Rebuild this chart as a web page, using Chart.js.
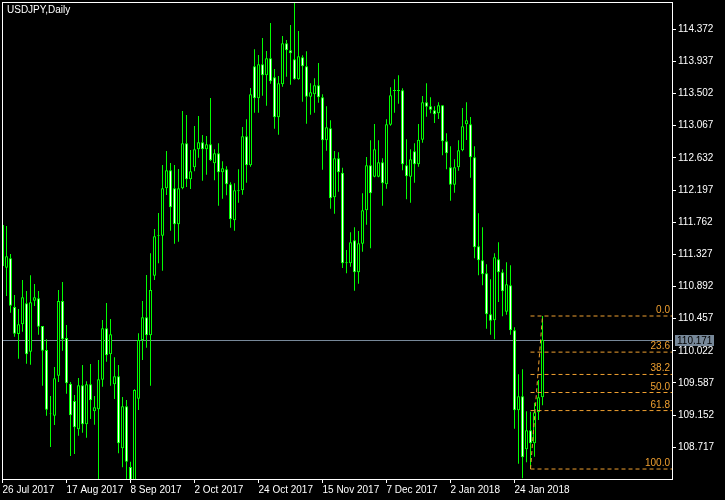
<!DOCTYPE html>
<html>
<head>
<meta charset="utf-8">
<title>USDJPY,Daily</title>
<script src="https://cdn.jsdelivr.net/npm/chart.js@4.4.1/dist/chart.umd.min.js"></script>
<style>
    html, body { margin: 0; padding: 0; background: #000; }
    #wrap { width: 725px; height: 500px; }
</style>
</head>
<body>
<div id="wrap"><canvas id="chart" width="725" height="500"></canvas></div>
<script>
// daily bars, 26 Jul 2017 .. 2 Feb 2018
const opens = [
    111.724, 111.147, 111.274, 110.615, 110.250, 110.381, 110.665, 110.010, 110.700, 110.733,
    110.358, 110.033, 109.174, 109.144, 109.686, 110.696, 110.196, 109.577, 109.343, 108.960,
    109.556, 109.028, 109.569, 109.204, 109.231, 109.631, 110.327, 109.975, 109.569, 109.677,
    108.703, 109.272, 108.450, 107.880, 109.374, 110.168, 110.476, 110.232, 111.038, 111.575,
    111.579, 112.221, 112.464, 112.221, 111.734, 112.221, 112.829, 112.342, 112.505, 112.748,
    112.843, 112.748, 112.816, 112.559, 112.694, 112.437, 112.478, 112.275, 111.788, 112.180,
    112.194, 112.924, 112.532, 113.871, 113.438, 113.898, 113.749, 113.979, 113.722, 113.181,
    113.628, 114.182, 114.088, 113.966, 113.695, 113.993, 113.871, 113.460, 113.492, 113.614,
    113.452, 112.870, 113.032, 112.099, 112.627, 112.432, 111.206, 111.206, 111.517, 111.084,
    111.471, 111.923, 112.532, 112.378, 112.378, 112.572, 112.275, 113.081, 113.537, 113.550,
    113.546, 112.532, 112.378, 112.721, 112.545, 112.878, 113.384, 113.330, 113.276, 113.235,
    113.344, 112.856, 112.505, 112.269, 112.505, 112.735, 113.086, 113.086, 112.640, 111.436,
    111.247, 111.071, 110.516, 110.435, 111.260, 111.084, 110.551, 110.908, 110.300, 109.217,
    109.407, 108.690, 108.947, 108.771, 109.190, 109.393
];
const highs = [
    111.873, 111.711, 111.332, 110.777, 110.588, 110.980, 110.831, 111.044, 110.926, 110.831,
    110.358, 110.178, 109.411, 109.803, 110.845, 110.953, 110.371, 109.600, 109.424, 109.654,
    109.830, 109.610, 109.844, 109.411, 109.898, 110.439, 110.669, 110.453, 109.934, 109.830,
    109.397, 109.357, 108.522, 109.502, 110.259, 110.696, 111.048, 111.341, 111.670, 111.887,
    112.536, 112.725, 112.563, 112.536, 112.482, 113.266, 113.212, 112.739, 113.063, 113.199,
    112.942, 112.928, 113.442, 112.748, 112.829, 112.586, 112.518, 112.302, 112.288, 112.478,
    113.050, 113.154, 113.578, 114.101, 114.024, 114.254, 114.078, 114.457, 113.835, 113.740,
    114.281, 114.227, 114.430, 114.727, 114.349, 114.020, 114.074, 113.641, 113.709, 113.916,
    113.492, 113.330, 113.141, 112.725, 112.708, 112.499, 111.386, 111.625, 111.693, 111.643,
    112.153, 112.644, 112.870, 113.091, 112.870, 112.627, 113.154, 113.587, 113.695, 113.749,
    113.573, 112.884, 112.748, 112.829, 113.091, 113.469, 113.641, 113.452, 113.330, 113.384,
    113.344, 112.965, 112.789, 112.613, 112.870, 113.307, 113.384, 113.185, 112.789, 111.882,
    111.693, 111.193, 110.990, 111.341, 111.490, 111.125, 111.220, 111.179, 110.340, 109.704,
    109.772, 109.204, 109.198, 109.320, 109.627, 110.493
];
const lows = [
    111.142, 110.764, 110.538, 110.213, 109.915, 110.281, 109.848, 109.834, 110.628, 110.240,
    109.550, 109.144, 108.721, 109.019, 109.600, 110.024, 109.442, 108.599, 108.626, 108.874,
    108.914, 108.847, 109.100, 109.023, 108.260, 109.537, 109.875, 109.550, 109.370, 108.636,
    108.446, 108.284, 107.320, 107.800, 109.222, 109.898, 110.064, 109.550, 110.980, 111.206,
    111.106, 112.130, 111.647, 111.471, 111.498, 112.207, 112.238, 112.211, 112.451, 112.635,
    112.323, 112.405, 112.590, 112.329, 111.985, 112.080, 112.126, 111.688, 111.647, 112.026,
    112.134, 112.296, 112.513, 113.243, 113.243, 113.473, 113.338, 113.636, 113.027, 112.946,
    113.595, 113.730, 113.622, 113.690, 113.690, 113.392, 113.095, 113.216, 113.243, 113.379,
    112.472, 112.729, 111.945, 111.877, 112.175, 111.142, 111.071, 111.160, 110.835, 110.930,
    111.363, 111.728, 111.409, 112.369, 112.370, 111.985, 112.215, 113.068, 113.243, 113.365,
    112.464, 112.072, 112.026, 112.296, 112.513, 112.838, 113.189, 113.235, 113.104, 113.158,
    112.667, 112.478, 112.053, 112.161, 112.459, 112.721, 112.874, 112.364, 111.274, 111.044,
    110.908, 110.321, 110.240, 110.178, 110.683, 110.489, 110.511, 110.240, 108.969, 108.495,
    108.298, 108.514, 108.423, 108.590, 109.086, 109.285
];
const closes = [
    111.170, 111.301, 110.632, 110.254, 110.381, 110.746, 109.975, 110.678, 110.746, 110.348,
    110.024, 109.226, 109.181, 109.650, 110.696, 110.178, 109.583, 109.150, 108.988, 109.556,
    109.028, 109.569, 109.353, 109.258, 109.637, 110.327, 109.961, 110.246, 109.677, 108.771,
    109.272, 108.522, 107.840, 109.492, 110.168, 110.476, 110.232, 110.845, 111.571, 111.585,
    112.221, 112.464, 111.964, 111.734, 112.221, 112.829, 112.342, 112.451, 112.748, 112.843,
    112.748, 112.816, 112.599, 112.694, 112.437, 112.491, 112.275, 111.801, 112.194, 112.194,
    112.924, 112.532, 113.492, 113.438, 113.898, 113.749, 113.979, 113.668, 113.181, 113.641,
    114.182, 114.088, 114.047, 113.695, 114.006, 113.871, 113.460, 113.519, 113.614, 113.452,
    112.870, 113.046, 112.085, 112.627, 112.437, 111.206, 111.220, 111.490, 111.084, 111.477,
    111.923, 112.532, 112.153, 112.748, 112.572, 112.288, 113.086, 113.479, 113.550, 113.537,
    112.545, 112.383, 112.613, 112.545, 112.878, 113.384, 113.325, 113.284, 113.222, 113.344,
    112.856, 112.694, 112.269, 112.505, 112.735, 113.059, 113.141, 112.640, 111.422, 111.247,
    111.057, 110.516, 110.430, 111.287, 111.084, 110.827, 110.922, 110.300, 109.217, 109.407,
    108.582, 108.947, 108.771, 109.190, 109.393, 110.171
];

// x axis: bar index of each date label
const dateTicks = [0, 16, 32, 48, 64, 80, 96, 112, 128];
const dateLabels = ['26 Jul 2017', '17 Aug 2017', '8 Sep 2017', '2 Oct 2017', '24 Oct 2017',
    '15 Nov 2017', '7 Dec 2017', '2 Jan 2018', '24 Jan 2018'];

// y axis
const priceTicks = [108.717, 109.152, 109.587, 110.022, 110.457, 110.892, 111.327,
    111.762, 112.197, 112.632, 113.067, 113.502, 113.937, 114.372];
const priceMin = 108.288;
const priceMax = 114.741;

// fibonacci retracement, drawn from the low of bar 132 to the high of bar 135
const fibFrom = 132;
const fibTo = 135;
const fibRatios = [0, 23.6, 38.2, 50, 61.8, 100];

const green = '#00ff00';
const orange = '#f0a030';
const gray = '#778899';
const font = 'Liberation Sans';

const xMin = -0.125;
const xMax = 167.375;

const bars = opens.map((o, i) => i);
const wickData = bars.map(i => ({x: i, y: [lows[i], highs[i]]}));
const bodyData = bars.map(i => ({x: i, y: [opens[i], closes[i]]}));
const bodyColors = bars.map(i => closes[i] < opens[i] ? '#ffffff' : '#000000');

const fibHigh = highs[fibTo];
const fibLow = lows[fibFrom];
const fibLevels = fibRatios.map(r => fibHigh - (fibHigh - fibLow) * r / 100);
const lastClose = closes[closes.length - 1];

const fibDatasets = fibLevels.map(level => ({
    type: 'line',
    data: [{x: fibFrom, y: level}, {x: xMax, y: level}],
    borderColor: orange,
    borderWidth: 1,
    borderDash: [4, 3],
    pointRadius: 0,
    order: 1
}));
fibDatasets.push({
    type: 'line',
    data: [{x: fibFrom, y: fibLow}, {x: fibTo, y: fibHigh}],
    borderColor: orange,
    borderWidth: 1,
    borderDash: [4, 3],
    pointRadius: 0,
    order: 1
});

const mtPlugin = {
    id: 'mtDecor',
    beforeDatasetsDraw(chart) {
        const {ctx, chartArea, scales} = chart;
        const y = Math.round(scales.y.getPixelForValue(lastClose)) + 0.5;
        ctx.save();
        ctx.strokeStyle = gray;
        ctx.lineWidth = 1;
        ctx.beginPath();
        ctx.moveTo(chartArea.left, y);
        ctx.lineTo(chartArea.right, y);
        ctx.stroke();
        ctx.restore();
    },
    afterDatasetsDraw(chart) {
        const {ctx, chartArea, scales} = chart;
        ctx.save();
        ctx.font = '10px "' + font + '"';
        ctx.fillStyle = orange;
        ctx.textAlign = 'right';
        ctx.textBaseline = 'alphabetic';
        fibLevels.forEach((level, i) => {
            const y = scales.y.getPixelForValue(level);
            ctx.fillText(fibRatios[i].toFixed(1), chartArea.right - 2, y - 3);
        });
        ctx.restore();
    },
    afterDraw(chart) {
        const {ctx, chartArea, scales} = chart;
        ctx.save();
        // frame
        ctx.strokeStyle = '#ffffff';
        ctx.lineWidth = 1;
        ctx.strokeRect(chartArea.left + 0.5, chartArea.top + 0.5,
            chartArea.right - chartArea.left, chartArea.bottom - chartArea.top);

        // symbol / timeframe
        ctx.font = '10px "' + font + '"';
        ctx.fillStyle = '#ffffff';
        ctx.textAlign = 'left';
        ctx.textBaseline = 'alphabetic';
        ctx.fillText('USDJPY,Daily', 7, 13);

        // last price box
        const y = Math.round(scales.y.getPixelForValue(lastClose));
        ctx.fillStyle = gray;
        ctx.fillRect(chartArea.right + 3, y - 5, 39, 11);
        ctx.fillStyle = '#000000';
        ctx.textBaseline = 'middle';
        ctx.fillText(lastClose.toFixed(3), chartArea.right + 5, y + 1);
        ctx.restore();
    }
};

const ctx = document.getElementById('chart').getContext('2d');

new Chart(ctx, {
    type: 'bar',
    data: {
        datasets: [
            {
                type: 'bar',
                data: wickData,
                backgroundColor: green,
                borderWidth: 0,
                barThickness: 1,
                maxBarThickness: 1,
                grouped: false,
                inflateAmount: 0,
                order: 3
            },
            {
                type: 'bar',
                data: bodyData,
                backgroundColor: bodyColors,
                borderColor: green,
                borderWidth: 1,
                borderSkipped: false,
                barThickness: 3,
                maxBarThickness: 3,
                grouped: false,
                inflateAmount: 0,
                order: 2
            },
            ...fibDatasets
        ]
    },
    options: {
        responsive: false,
        animation: false,
        devicePixelRatio: 1,
        layout: {padding: {left: 2, top: 2, right: 0, bottom: 0}},
        plugins: {
            legend: {display: false},
            tooltip: {enabled: false},
            title: {display: false}
        },
        scales: {
            x: {
                type: 'linear',
                min: xMin,
                max: xMax,
                offset: false,
                grid: {
                    display: true,
                    offset: false,
                    drawOnChartArea: false,
                    drawTicks: true,
                    tickLength: 4,
                    color: '#ffffff'
                },
                border: {display: false},
                ticks: {
                    color: '#ffffff',
                    font: {family: font, size: 10},
                    padding: 1,
                    align: 'start',
                    autoSkip: false,
                    maxRotation: 0,
                    callback: (value, index) => dateLabels[index]
                },
                afterBuildTicks: scale => {
                    scale.ticks = dateTicks.map(v => ({value: v}));
                },
                afterFit: scale => {
                    scale.height = 21;
                    scale.paddingLeft = 0;
                    scale.paddingRight = 0;
                }
            },
            y: {
                type: 'linear',
                position: 'right',
                min: priceMin,
                max: priceMax,
                grid: {
                    display: true,
                    drawOnChartArea: false,
                    drawTicks: true,
                    tickLength: 4,
                    color: '#ffffff'
                },
                border: {display: false},
                ticks: {
                    color: '#ffffff',
                    font: {family: font, size: 10},
                    padding: 2,
                    callback: value => value.toFixed(3)
                },
                afterBuildTicks: scale => {
                    scale.ticks = priceTicks.map(v => ({value: v}));
                },
                afterFit: scale => {
                    scale.width = 53;
                    scale.paddingTop = 0;
                    scale.paddingBottom = 0;
                }
            }
        }
    },
    plugins: [mtPlugin]
});
</script>
</body>
</html>
